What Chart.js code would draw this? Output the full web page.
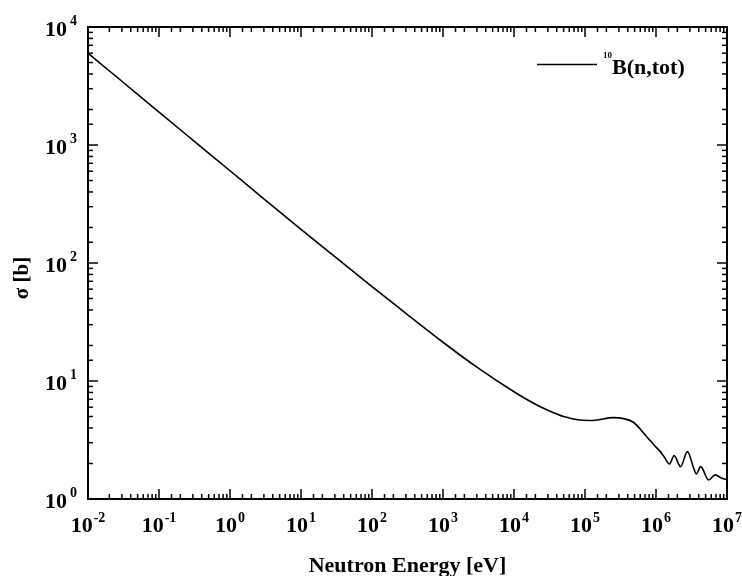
<!DOCTYPE html>
<html>
<head>
<meta charset="utf-8">
<title>10B(n,tot)</title>
<script src="https://cdn.jsdelivr.net/npm/chart.js@4/dist/chart.umd.min.js"></script>
<style>
  html, body { margin: 0; padding: 0; background: #fff; }
  canvas { display: block; }
</style>
</head>
<body>
<canvas id="xsCanvas" width="742" height="576"></canvas>
<script>
// neutron energy [eV] and total cross section [b]
const energy = [0.01, 0.03, 0.1, 0.3, 1, 3, 10, 30, 100, 300, 1000, 3000,
    1e4, 2e4, 3e4, 5e4, 8.5e4, 1.3e5, 2.5e5, 3.5e5, 4.8e5, 7.4e5, 1e6, 1.15e6,
    1.3e6, 1.55e6, 1.8e6, 2.22e6, 2.77e6, 3.4e6, 3.7e6, 4.26e6, 5.5e6, 6.8e6,
    8.5e6, 1e7];
const sigma = [6000, 3470, 1900, 1100, 605, 350, 193, 113, 63, 37.5, 21.3, 13.1,
    8.1, 6.35, 5.65, 5.0, 4.67, 4.63, 4.89, 4.8, 4.47, 3.37, 2.75, 2.52,
    2.28, 1.98, 2.33, 1.88, 2.52, 1.82, 1.63, 1.88, 1.45, 1.6,
    1.5, 1.46];

const xRange = [1e-2, 1e7];
const yRange = [1, 1e4];
const isotope = '10';
const reaction = 'B(n,tot)';
const xTitle = 'Neutron Energy [eV]';
const yTitle = 'σ [b]';

const SERIF = '"Liberation Serif", "Times New Roman", serif';

function isDecade(v) {
    const l = Math.log10(v);
    return Math.abs(l - Math.round(l)) < 1e-6;
}

function seg(ctx, x1, y1, x2, y2) {
    ctx.beginPath();
    ctx.moveTo(x1, y1);
    ctx.lineTo(x2, y2);
    ctx.stroke();
}

// box, inward ticks on all sides, 10^n labels, titles, legend
const framePlugin = {
    id: 'frame',
    afterDraw(chart) {
        const { ctx, chartArea: a, scales: { x, y } } = chart;
        ctx.save();
        ctx.strokeStyle = '#000';
        ctx.fillStyle = '#000';
        ctx.lineWidth = 1.5;

        x.ticks.forEach(t => {
            const px = x.getPixelForValue(t.value);
            const len = isDecade(t.value) ? 10 : 5;
            seg(ctx, px, a.bottom, px, a.bottom - len);
            seg(ctx, px, a.top, px, a.top + len);
        });
        y.ticks.forEach(t => {
            const py = y.getPixelForValue(t.value);
            const len = isDecade(t.value) ? 10 : 5;
            seg(ctx, a.left, py, a.left + len, py);
            seg(ctx, a.right, py, a.right - len, py);
        });

        ctx.lineWidth = 2;
        ctx.strokeRect(a.left, a.top, a.right - a.left, a.bottom - a.top);

        const big = 'bold 22px ' + SERIF;
        const small = 'bold 14px ' + SERIF;
        ctx.textBaseline = 'alphabetic';

        x.ticks.filter(t => isDecade(t.value)).forEach(t => {
            const px = x.getPixelForValue(t.value);
            const exp = String(Math.round(Math.log10(t.value)));
            ctx.font = big;
            const w1 = ctx.measureText('10').width;
            ctx.font = small;
            const w2 = ctx.measureText(exp).width;
            const x0 = px - (w1 + 1 + w2) / 2;
            ctx.textAlign = 'left';
            ctx.font = big;
            ctx.fillText('10', x0, a.bottom + 33);
            ctx.font = small;
            ctx.fillText(exp, x0 + w1 + 1, a.bottom + 23);
        });

        y.ticks.filter(t => isDecade(t.value)).forEach(t => {
            const py = y.getPixelForValue(t.value);
            const exp = String(Math.round(Math.log10(t.value)));
            ctx.font = big;
            ctx.textAlign = 'right';
            ctx.fillText('10', 67, py + 9);
            ctx.font = small;
            ctx.textAlign = 'left';
            ctx.fillText(exp, 70, py - 2);
        });

        // axis titles
        ctx.font = 'bold 22px ' + SERIF;
        ctx.textAlign = 'center';
        ctx.fillText(xTitle, (a.left + a.right) / 2, 572);

        ctx.save();
        ctx.translate(28, 278);
        ctx.rotate(-Math.PI / 2);
        ctx.font = 'bold 21px ' + SERIF;
        ctx.fillText(yTitle, 0, 0);
        ctx.restore();

        // legend
        const ds = chart.data.datasets[0];
        ctx.strokeStyle = ds.borderColor;
        ctx.lineWidth = ds.borderWidth;
        seg(ctx, 537, 64.5, 597, 64.5);
        ctx.textAlign = 'left';
        ctx.font = 'bold 9px ' + SERIF;
        ctx.fillText(isotope, 603, 57.5);
        ctx.font = 'bold 22px ' + SERIF;
        ctx.fillText(reaction, 612, 74);

        ctx.restore();
    }
};

const points = energy.map((e, i) => ({ x: e, y: sigma[i] }));

new Chart(document.getElementById('xsCanvas'), {
    type: 'line',
    data: {
        datasets: [{
            label: isotope + reaction,
            data: points,
            borderColor: '#000',
            borderWidth: 1.6,
            pointRadius: 0,
            fill: false,
            cubicInterpolationMode: 'monotone'
        }]
    },
    options: {
        responsive: false,
        animation: false,
        layout: { padding: { top: 27, right: 15, left: 0, bottom: 0 } },
        plugins: {
            legend: { display: false },
            tooltip: { enabled: false }
        },
        scales: {
            x: {
                type: 'logarithmic',
                min: xRange[0],
                max: xRange[1],
                grid: { display: false },
                border: { display: false },
                ticks: { display: false, autoSkip: false },
                afterFit(scale) { scale.height = 77; }
            },
            y: {
                type: 'logarithmic',
                min: yRange[0],
                max: yRange[1],
                grid: { display: false },
                border: { display: false },
                ticks: { display: false, autoSkip: false },
                afterFit(scale) { scale.width = 88; }
            }
        }
    },
    plugins: [framePlugin]
});
</script>
</body>
</html>
